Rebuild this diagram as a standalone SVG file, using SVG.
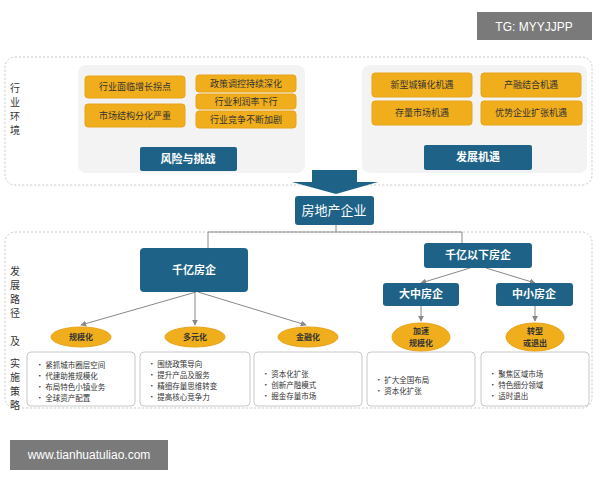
<svg xmlns="http://www.w3.org/2000/svg" width="600" height="480" viewBox="0 0 600 480">
<style>
text{font-family:"Noto Sans CJK SC","Liberation Sans",sans-serif}
.y{fill:#f0ad1c;stroke:#e8a418}
.yt{font-size:9px;fill:#333;text-anchor:middle}
.et{font-size:8px;fill:#333;text-anchor:middle;font-weight:bold}
.b{fill:#1e6387}
.bt{fill:#fff;font-size:11px;font-weight:bold;text-anchor:middle}
.pan{fill:#f3f3f3}
.dash{fill:none;stroke:#c8c8c8;stroke-dasharray:2 2}
.wb{fill:#fff;stroke:#c8c8c8}
.lt{font-size:7.5px;fill:#333}
.side{font-size:10px;fill:#333;text-anchor:middle}
.c{stroke:#888;stroke-width:1;fill:none}
</style>
<defs><marker id="a" viewBox="0 0 8 8" refX="7" refY="4" markerWidth="6" markerHeight="6" orient="auto"><path d="M0,0L8,4L0,8z" fill="#888"/></marker></defs>
<rect width="600" height="480" fill="#fff"/>
<g id="tg"><rect x="477" y="12" width="115" height="28" fill="#7a7a7a"/><text x="534" y="31" font-size="12" fill="#fff" text-anchor="middle" style="font-family:'Liberation Sans',sans-serif">TG: MYYJJPP</text></g>
<g id="env"><rect x="5" y="57" width="587" height="128" rx="10" class="dash"/>
<text class="side"><tspan x="15" y="92">行</tspan><tspan x="15" y="106">业</tspan><tspan x="15" y="120">环</tspan><tspan x="15" y="134">境</tspan></text>
<rect x="78" y="65" width="227" height="108" rx="8" class="pan"/>
<rect x="362" y="65" width="225" height="108" rx="8" class="pan"/></g>
<g id="risk">
<rect x="85" y="76" width="100" height="22" rx="3" class="y"/><text x="135" y="90" class="yt">行业面临增长拐点</text>
<rect x="85" y="104" width="100" height="23" rx="3" class="y"/><text x="135" y="119" class="yt">市场结构分化严重</text>
<rect x="196" y="75" width="100" height="17" rx="3" class="y"/><text x="246" y="87" class="yt">政策调控持续深化</text>
<rect x="196" y="94" width="100" height="15" rx="3" class="y"/><text x="246" y="105" class="yt">行业利润率下行</text>
<rect x="196" y="111" width="100" height="17" rx="3" class="y"/><text x="246" y="123" class="yt">行业竞争不断加剧</text>
<rect x="140" y="147" width="97" height="24" rx="2" class="b"/><text x="188" y="163" class="bt">风险与挑战</text></g>
<g id="opp">
<rect x="372" y="73" width="100" height="24" rx="3" class="y"/><text x="422" y="88" class="yt">新型城镇化机遇</text>
<rect x="481" y="73" width="100" height="24" rx="3" class="y"/><text x="531" y="88" class="yt">产融结合机遇</text>
<rect x="372" y="101" width="100" height="24" rx="3" class="y"/><text x="422" y="116" class="yt">存量市场机遇</text>
<rect x="481" y="101" width="101" height="24" rx="3" class="y"/><text x="531" y="116" class="yt">优势企业扩张机遇</text>
<rect x="424" y="145" width="108" height="25" rx="2" class="b"/><text x="478" y="161" class="bt">发展机遇</text></g>
<g id="bigarrow"><path d="M312,170H357V182H378L336,194L292,182H312z" fill="#1e6387"/></g>
<g id="main"><rect x="295" y="196" width="79" height="29" rx="3" class="b"/><text x="334" y="215" class="bt" style="font-size:13px;font-weight:normal">房地产企业</text></g>
<g id="strat"><rect x="5" y="232" width="587" height="176" rx="10" class="dash"/>
<text class="side"><tspan x="15" y="275">发</tspan><tspan x="15" y="289">展</tspan><tspan x="15" y="303">路</tspan><tspan x="15" y="317">径</tspan><tspan x="15" y="345">及</tspan><tspan x="15" y="367">实</tspan><tspan x="15" y="381">施</tspan><tspan x="15" y="395">策</tspan><tspan x="15" y="409">略</tspan></text></g>
<g id="connectors">
<path class="c" d="M336,225V232H208V248M336,232H462V243"/>
<path class="c" marker-end="url(#a)" d="M196,292L81,325"/>
<path class="c" marker-end="url(#a)" d="M195,292V325"/>
<path class="c" marker-end="url(#a)" d="M198,292L306,325"/>
<path class="c" marker-end="url(#a)" d="M470,268L421,283"/>
<path class="c" marker-end="url(#a)" d="M486,268L535,283"/>
<path class="c" marker-end="url(#a)" d="M421,306V321"/>
<path class="c" marker-end="url(#a)" d="M535,306V321"/>
</g>
<g id="n1000"><rect x="140" y="248" width="108" height="44" rx="4" class="b"/><text x="194" y="274" class="bt">千亿房企</text></g>
<g id="nbelow"><rect x="424" y="243" width="108" height="25" rx="3" class="b"/><text x="478" y="259" class="bt">千亿以下房企</text></g>
<g id="nlarge"><rect x="383" y="283" width="76" height="23" rx="3" class="b"/><text x="421" y="298" class="bt">大中房企</text></g>
<g id="nsmall"><rect x="496" y="283" width="77" height="23" rx="3" class="b"/><text x="534" y="298" class="bt">中小房企</text></g>
<g id="s1"><rect x="27" y="352" width="108" height="54" rx="4" class="wb"/><ellipse cx="81" cy="337" rx="30" ry="10" class="y"/><text x="81" y="340" class="et">规模化</text>
<text class="lt"><tspan x="36" y="368">•  紧抓城市圈层空间</tspan><tspan x="36" y="379">•  代建助推规模化</tspan><tspan x="36" y="390">•  布局特色小镇业务</tspan><tspan x="36" y="401">•  全球资产配置</tspan></text></g>
<g id="s2"><rect x="140" y="352" width="110" height="54" rx="4" class="wb"/><ellipse cx="195" cy="337" rx="30" ry="10" class="y"/><text x="195" y="340" class="et">多元化</text>
<text class="lt"><tspan x="148" y="367">•  围绕政策导向</tspan><tspan x="148" y="378">•  提升产品及服务</tspan><tspan x="148" y="389">•  精细存量思维转变</tspan><tspan x="148" y="400">•  提高核心竞争力</tspan></text></g>
<g id="s3"><rect x="254" y="352" width="108" height="54" rx="4" class="wb"/><ellipse cx="308" cy="337" rx="30" ry="10" class="y"/><text x="308" y="340" class="et">金融化</text>
<text class="lt"><tspan x="262" y="377">•  资本化扩张</tspan><tspan x="262" y="388">•  创新产融模式</tspan><tspan x="262" y="399">•  掘金存量市场</tspan></text></g>
<g id="s4"><rect x="367" y="352" width="108" height="54" rx="4" class="wb"/><ellipse cx="421" cy="337" rx="29" ry="14" class="y"/><text class="et"><tspan x="421" y="334">加速</tspan><tspan x="421" y="346">规模化</tspan></text>
<text class="lt"><tspan x="375" y="383">•  扩大全国布局</tspan><tspan x="375" y="394">•  资本化扩张</tspan></text></g>
<g id="s5"><rect x="481" y="352" width="108" height="54" rx="4" class="wb"/><ellipse cx="535" cy="337" rx="29" ry="14" class="y"/><text class="et"><tspan x="535" y="334">转型</tspan><tspan x="535" y="346">或退出</tspan></text>
<text class="lt"><tspan x="489" y="377">•  聚焦区域市场</tspan><tspan x="489" y="388">•  特色细分领域</tspan><tspan x="489" y="399">•  适时退出</tspan></text></g>
<g id="url"><rect x="10" y="440" width="158" height="30" fill="#7a7a7a"/><text x="89" y="459" font-size="12" fill="#fff" text-anchor="middle" style="font-family:'Liberation Sans',sans-serif">www.tianhuatuliao.com</text></g>
</svg>
